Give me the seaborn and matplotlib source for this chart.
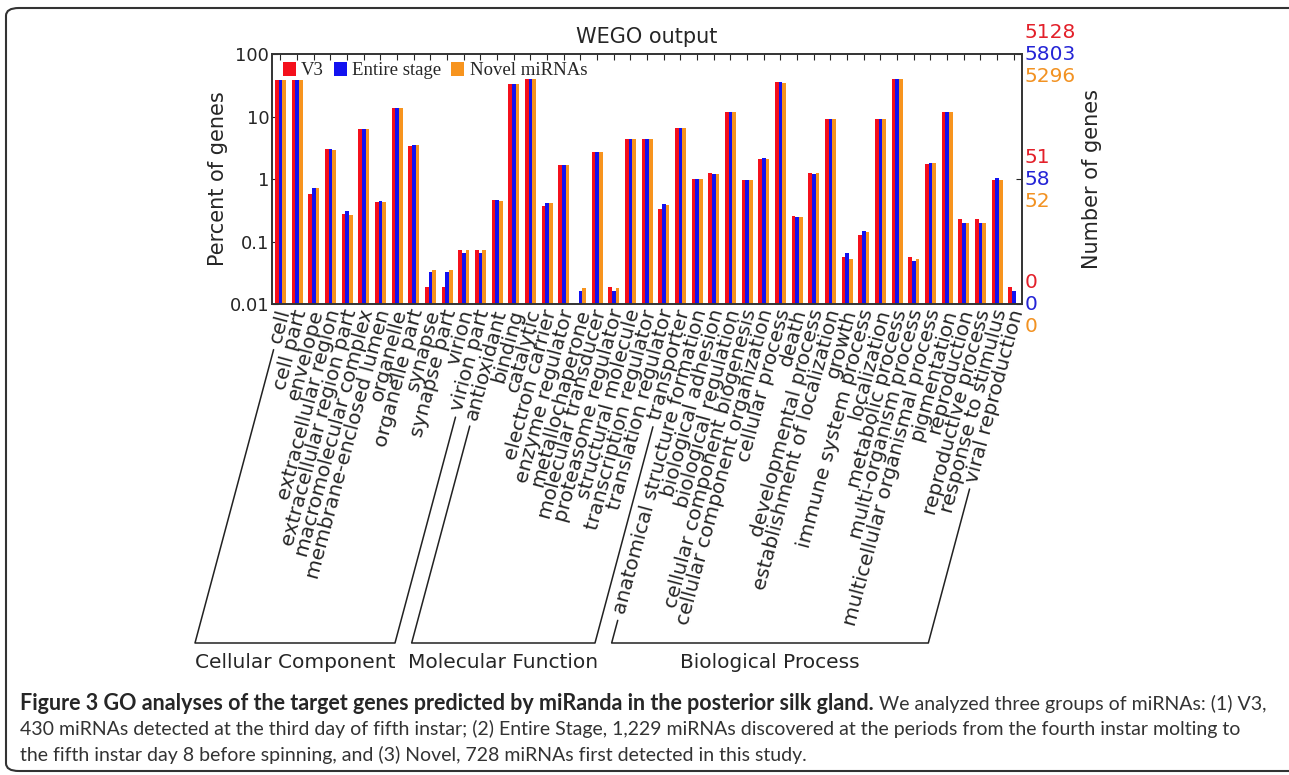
import numpy as np
import pandas as pd
import matplotlib
matplotlib.use("Agg")
import matplotlib.pyplot as plt
import seaborn as sns
from matplotlib.lines import Line2D
from matplotlib.patches import FancyBboxPatch
from matplotlib.transforms import IdentityTransform, ScaledTranslation

# GO terms (x axis), three ontologies
cc_terms = ["cell", "cell part", "envelope", "extracellular region",
            "extracellular region part", "macromolecular complex",
            "membrane-enclosed lumen", "organelle", "organelle part",
            "synapse", "synapse part", "virion", "virion part"]
mf_terms = ["antioxidant", "binding", "catalytic", "electron carrier",
            "enzyme regulator", "metallochaperone", "molecular transducer",
            "proteasome regulator", "structural molecule",
            "transcription regulator", "translation regulator", "transporter"]
bp_terms = ["anatomical structure formation", "biological adhesion",
            "biological regulation", "cellular component biogenesis",
            "cellular component organization", "cellular process", "death",
            "developmental process", "establishment of localization", "growth",
            "immune system process", "localization", "metabolic process",
            "multi-organism process", "multicellular organismal process",
            "pigmentation", "reproduction", "reproductive process",
            "response to stimulus", "viral reproduction"]
terms = cc_terms + mf_terms + bp_terms
group_names = ["Cellular Component", "Molecular Function", "Biological Process"]

# percent of genes per series
v3 = [38.3, 38.3, 0.58, 2.98, 0.277, 6.2, 0.43, 13.9, 3.4, 0.0184, 0.0184, 0.074, 0.074,
      0.46, 33, 39.3, 0.37, 1.7, 0, 2.7, 0.0184, 4.3, 4.43, 0.333, 6.65,
      1.01, 1.26, 12.0, 0.95, 2.07, 35.1, 0.26, 1.26, 9.06, 0.056, 0.129, 9.06,
      39.3, 0.056, 1.76, 11.6, 0.225, 0.225, 0.975, 0.0184]
entire = [38.3, 38.3, 0.72, 3.0, 0.31, 6.2, 0.44, 13.9, 3.55, 0.033, 0.033, 0.066, 0.066,
          0.46, 33, 39.3, 0.42, 1.68, 0.0163, 2.7, 0.0163, 4.3, 4.4, 0.40, 6.6,
          1.0, 1.2, 12.0, 0.96, 2.14, 35.1, 0.245, 1.21, 9.06, 0.066, 0.146, 9.06,
          39.3, 0.049, 1.8, 11.6, 0.199, 0.199, 1.03, 0.0163]
novel = [38.3, 38.3, 0.72, 2.95, 0.27, 6.2, 0.43, 13.9, 3.55, 0.035, 0.035, 0.072, 0.072,
         0.45, 33, 39.3, 0.42, 1.68, 0.018, 2.68, 0.018, 4.3, 4.4, 0.377, 6.6,
         1.0, 1.2, 12.0, 0.96, 2.1, 34.5, 0.25, 1.26, 9.0, 0.053, 0.143, 9.0,
         39.3, 0.053, 1.8, 11.6, 0.199, 0.199, 0.975, 0]

series = ["V3", "Entire stage", "Novel miRNAs"]
colors = ["#f4101c", "#1212f0", "#f7941e"]
text_colors = ["#e3202a", "#2424d6", "#f29222"]

# right axis: number of genes at 100%, 1%, 0.01%
right_ticks = [100, 1, 0.01]
n_v3 = [5128, 51, 0]
n_entire = [5803, 58, 0]
n_novel = [5296, 52, 0]

caption_bold = "Figure 3 GO analyses of the target genes predicted by miRanda in the posterior silk gland."
caption_lines = ["We analyzed three groups of miRNAs: (1) V3,",
                 "430 miRNAs detected at the third day of fifth instar; (2) Entire Stage, 1,229 miRNAs discovered at the periods from the fourth instar molting to",
                 "the fifth instar day 8 before spinning, and (3) Novel, 728 miRNAs first detected in this study."]

df = pd.DataFrame({
    "term": terms * 3,
    "pct": v3 + entire + novel,
    "series": [s for s in series for _ in terms],
})

sns.set_style("white")
plt.rcParams["font.family"] = ["DejaVu Sans"]

W, H = 1289, 775
fig = plt.figure(figsize=(W / 100, H / 100), dpi=100)
ax = fig.add_axes([272 / W, 1 - 304 / H, 750 / W, 250 / H])

sns.barplot(data=df, x="term", y="pct", hue="series", palette=colors,
            width=0.66, saturation=1, errorbar=None, linewidth=0,
            edgecolor="none", ax=ax)
ax.set_yscale("log")
ax.set_ylim(0.01, 100)
ax.set_xlim(-0.5, len(terms) - 0.5)
ax.set_yticks([0.01, 0.1, 1, 10, 100])
ax.set_yticklabels(["0.01", "0.1", "1", "10", "100"], fontsize=13)
ax.minorticks_off()
ax.set_xlabel("")
ax.set_ylabel("Percent of genes", fontsize=15)
ax.yaxis.set_label_coords(-0.0587, 0.5)
ax.set_title("WEGO output", fontsize=15, pad=8)

ax.set_xticks(range(len(terms)))
ax.set_xticklabels(terms, rotation=75, ha="right", va="center",
                   rotation_mode="anchor", fontsize=14.5)
ax.tick_params(axis="x", direction="in", top=True, bottom=True, length=4, pad=4)
ax.tick_params(axis="y", direction="in", left=True, right=False, length=4, pad=2)
for lab in ax.get_xticklabels():
    lab.set_transform(lab.get_transform() + ScaledTranslation(4 / 100, 0, fig.dpi_scale_trans))
for sp in ax.spines.values():
    sp.set_color("#333333")
    sp.set_linewidth(1.2)

ax.legend(loc="upper left", bbox_to_anchor=(0.004, 1.0), ncol=3, frameon=False,
          prop={"family": "Liberation Serif", "size": 13.5},
          handlelength=0.7, handleheight=0.8, handletextpad=0.3,
          columnspacing=0.5, borderaxespad=0.1, borderpad=0.3)

ax2 = ax.twinx()
ax2.set_yscale("log")
ax2.set_ylim(0.01, 100)
ax2.set_yticks(right_ticks)
ax2.set_yticklabels([])
ax2.minorticks_off()
ax2.tick_params(axis="y", direction="in", length=4)
ax2.set_ylabel("Number of genes", fontsize=15)
ax2.yaxis.set_label_coords((1082 - 272) / 750, 0.5)
for sp in ax2.spines.values():
    sp.set_color("#333333")
    sp.set_linewidth(1.2)

for k, counts in enumerate([n_v3, n_entire, n_novel]):
    for v, n in zip(right_ticks, counts):
        ax.annotate(str(n), xy=(1, v), xycoords=ax.get_yaxis_transform(),
                    xytext=(3, (1 - k) * 22), textcoords="offset pixels",
                    va="center", ha="left", fontsize=14.5, color=text_colors[k],
                    annotation_clip=False)

# brackets grouping the terms
fig.canvas.draw()
renderer = fig.canvas.get_renderer()
labels = ax.get_xticklabels()
theta = np.deg2rad(75)
y_bottom = H - 643


def label_start(i, gap=7):
    lab = labels[i]
    x, y = lab.get_transform().transform(lab.get_position())
    w, h, d = renderer.get_text_width_height_descent(lab.get_text(), lab.get_fontproperties(), ismath=False)
    return x - (w + gap) * np.cos(theta), y - (w + gap) * np.sin(theta)


spans = [(0, len(cc_terms) - 1),
         (len(cc_terms), len(cc_terms) + len(mf_terms) - 1),
         (len(cc_terms) + len(mf_terms), len(terms) - 1)]
for (i0, i1), name in zip(spans, group_names):
    xs0, ys0 = label_start(i0)
    xs1, ys1 = label_start(i1)
    xb0 = xs0 - (ys0 - y_bottom) / np.tan(theta)
    xb1 = xs1 - (ys1 - y_bottom) / np.tan(theta)
    fig.add_artist(Line2D([xs0, xb0, xb1, xs1], [ys0, y_bottom, y_bottom, ys1],
                          transform=IdentityTransform(), color="#222222", lw=1.1))
    fig.text((xb0 + xb1) / 2 / W, (y_bottom - 20) / H, name, ha="center",
             va="center", fontsize=14.5)

# caption box
fig.add_artist(FancyBboxPatch((6 / W, 1 - 771 / H), 1300 / W, 763 / H,
                              boxstyle="round,pad=0,rounding_size=0.01",
                              transform=fig.transFigure, facecolor="none",
                              edgecolor="#333333", lw=1.5))
t1 = fig.text(20 / W, 1 - 704 / H, caption_bold, fontsize=15.5, fontweight="bold",
              family="Lato", va="center", ha="left")
ax.annotate(caption_lines[0], xy=(1, 0.5), xycoords=t1, xytext=(5, 0),
            textcoords="offset pixels", va="center", ha="left", fontsize=14,
            family="Lato", color="#333333", annotation_clip=False)
fig.text(20 / W, 1 - 729 / H, caption_lines[1], fontsize=14, family="Lato",
         color="#333333", va="center", ha="left")
fig.text(20 / W, 1 - 755 / H, caption_lines[2], fontsize=14, family="Lato",
         color="#333333", va="center", ha="left")

fig.savefig("out.png", dpi=100)
